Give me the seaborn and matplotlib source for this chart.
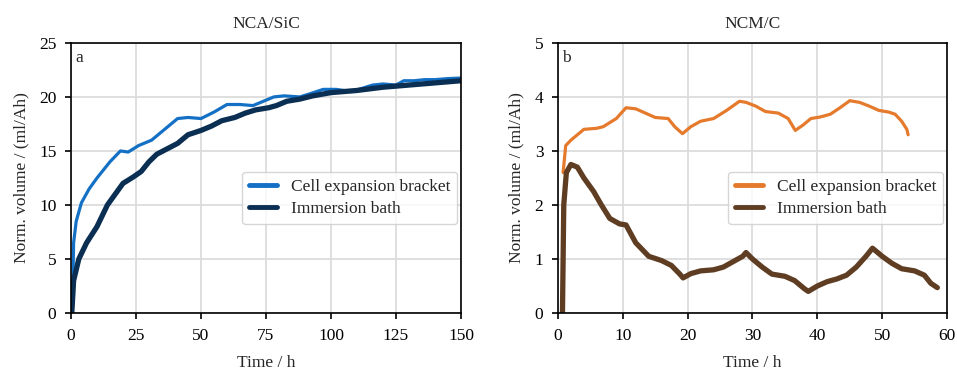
import numpy as np
import pandas as pd
import matplotlib
matplotlib.use("Agg")
import matplotlib.pyplot as plt
import seaborn as sns

# NCA/SiC, panel a
nca_bracket_t = [0.5, 1, 2, 4, 7, 10, 15, 19, 22, 26, 31, 36, 41, 45, 50, 55, 60, 65, 70, 74, 78,
                 82, 88, 92, 97, 102, 108, 112, 116, 120, 125, 128, 132, 136, 140, 145, 150]
nca_bracket_v = [0, 6.5, 8.5, 10.2, 11.5, 12.5, 14.0, 15.0, 14.9, 15.5, 16.0, 17.0, 18.0, 18.1, 18.0,
                 18.6, 19.3, 19.3, 19.2, 19.6, 20.0, 20.1, 20.0, 20.3, 20.7, 20.7, 20.5, 20.8, 21.1,
                 21.2, 21.1, 21.5, 21.5, 21.6, 21.6, 21.7, 21.75]
nca_bath_t = [0.3, 1, 3, 6, 10, 14, 17, 20, 24, 27, 30, 33, 37, 41, 45, 50, 54, 58, 63, 67, 71, 76,
              79, 83, 88, 93, 100, 110, 120, 130, 140, 150]
nca_bath_v = [0, 3.0, 5.0, 6.5, 8.0, 10.0, 11.0, 12.0, 12.6, 13.1, 14.0, 14.7, 15.2, 15.7, 16.5, 16.9,
              17.3, 17.8, 18.1, 18.5, 18.8, 19.0, 19.2, 19.6, 19.8, 20.1, 20.4, 20.6, 20.9, 21.1,
              21.3, 21.5]

# NCM/C, panel b
ncm_bracket_t = [0.8, 1.2, 2, 4, 6, 7, 9, 10.5, 12, 13.5, 15, 17, 18, 19.2, 20.5, 22, 24, 26, 28, 29,
                 30.5, 32, 34, 35.5, 36.6, 37.8, 39, 40.5, 42, 43.5, 45, 46.5, 48, 49.5, 51, 52,
                 53, 53.8, 54]
ncm_bracket_v = [2.6, 3.1, 3.2, 3.4, 3.42, 3.45, 3.6, 3.8, 3.78, 3.7, 3.62, 3.6, 3.45, 3.32, 3.45,
                 3.55, 3.6, 3.75, 3.92, 3.9, 3.83, 3.73, 3.7, 3.6, 3.38, 3.48, 3.6, 3.63, 3.68, 3.8,
                 3.93, 3.9, 3.83, 3.75, 3.72, 3.68, 3.55, 3.4, 3.3]
ncm_bath_t = [0.7, 0.9, 1.3, 2, 3, 4, 5.5, 6.7, 8, 9.5, 10.5, 12, 14, 16, 17.5, 18.8, 19.3, 20.5, 22,
              24, 25.5, 27, 28.5, 29, 30, 31.5, 33, 35, 36.5, 38, 38.6, 40, 41.5, 43, 44.5, 46,
              47.5, 48.5, 50, 51.5, 53, 55, 56.5, 57.5, 58.5]
ncm_bath_v = [0, 2.0, 2.6, 2.75, 2.7, 2.5, 2.25, 2.0, 1.75, 1.65, 1.63, 1.3, 1.05, 0.97, 0.88, 0.72,
              0.65, 0.73, 0.78, 0.8, 0.85, 0.95, 1.05, 1.12, 1.0, 0.85, 0.72, 0.68, 0.6, 0.45, 0.4,
              0.5, 0.58, 0.63, 0.7, 0.85, 1.05, 1.2, 1.05, 0.92, 0.82, 0.78, 0.7, 0.55, 0.47]

labels = ["Cell expansion bracket", "Immersion bath"]
fs = 12.5

sns.set_theme(style="whitegrid", rc={
    "axes.edgecolor": "black",
    "axes.linewidth": 1.2,
    "grid.color": "#dcdcdc",
    "grid.linewidth": 1.3,
    "xtick.bottom": True,
    "ytick.left": True,
    "xtick.color": "black",
    "ytick.color": "black",
    "xtick.major.size": 4.5,
    "ytick.major.size": 4.5,
})
plt.rcParams["font.family"] = ["Liberation Serif", "DejaVu Serif"]

fig = plt.figure(figsize=(9.57, 3.7), dpi=100)
ax1 = fig.add_axes([0.0742, 0.154, 0.4075, 0.730])
ax2 = fig.add_axes([0.583, 0.154, 0.4066, 0.730])

panels = [
    (ax1, nca_bracket_t, nca_bracket_v, nca_bath_t, nca_bath_v, "#1470c4", "#0b2f52",
     "NCA/SiC", "a", 150, 25, 25, 5),
    (ax2, ncm_bracket_t, ncm_bracket_v, ncm_bath_t, ncm_bath_v, "#e57a2c", "#5e3d22",
     "NCM/C", "b", 60, 5, 10, 1),
]

for ax, bt, bv, it, iv, c1, c2, title, tag, xmax, ymax, xstep, ystep in panels:
    sns.lineplot(x=bt, y=bv, ax=ax, color=c1, linewidth=2.3, label=labels[0], sort=False)
    sns.lineplot(x=it, y=iv, ax=ax, color=c2, linewidth=3.8, label=labels[1], sort=False)
    ax.set_xlim(0, xmax)
    ax.set_ylim(0, ymax)
    ax.set_xticks(np.arange(0, xmax + 1, xstep))
    ax.set_yticks(np.arange(0, ymax + 0.1, ystep))
    ax.set_title(title, fontsize=fs, pad=11)
    ax.set_xlabel("Time / h", fontsize=fs, labelpad=8)
    ax.set_ylabel("Norm. volume / (ml/Ah)", fontsize=fs, labelpad=7)
    ax.tick_params(labelsize=fs, width=1.2, pad=6)
    ax.text(0.01, 0.975, tag, transform=ax.transAxes, ha="left", va="top", fontsize=fs)
    leg = ax.legend(loc="center right", bbox_to_anchor=(0.99, 0.426), fontsize=fs,
                    frameon=True, fancybox=True, framealpha=0.8, borderaxespad=0.0,
                    handlelength=1.6, labelspacing=0.35, borderpad=0.4)
    leg.get_frame().set_edgecolor("#cccccc")
    for line in leg.get_lines():
        line.set_linewidth(3.5)

fig.savefig("out.png", dpi=100)
